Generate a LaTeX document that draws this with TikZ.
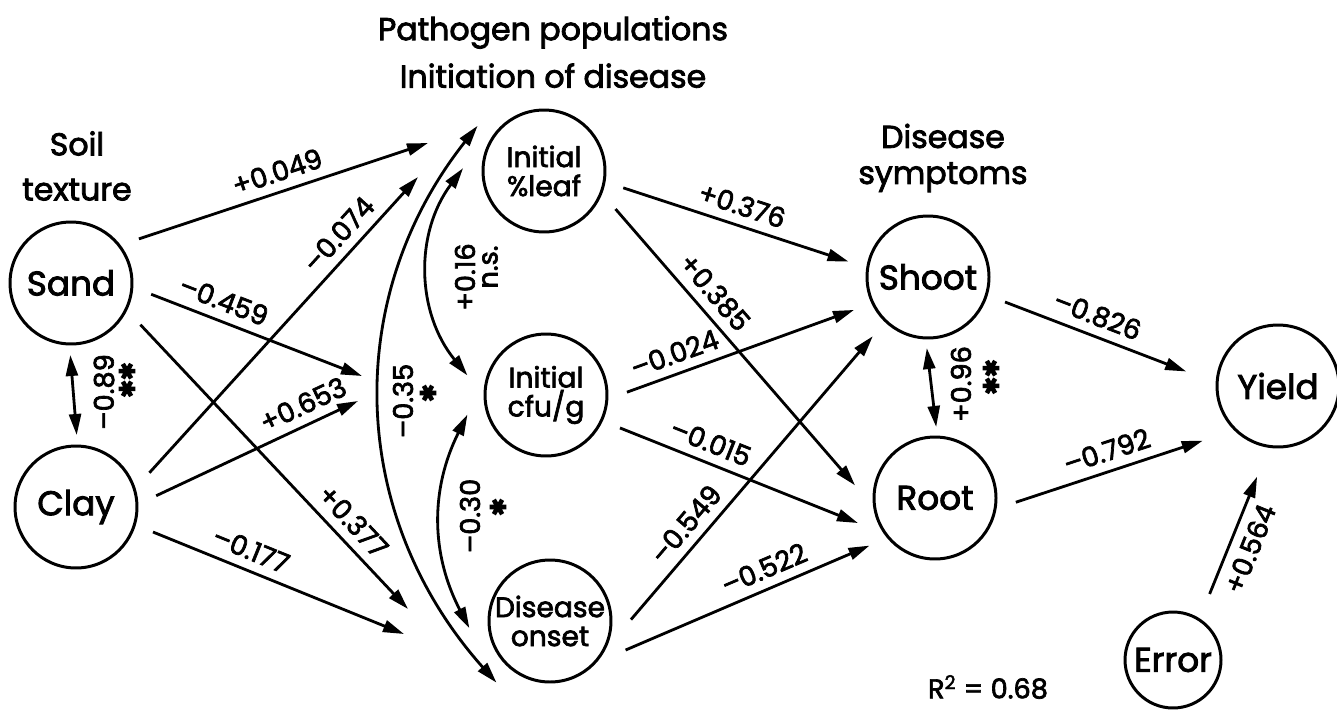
\documentclass[tikz,border=0pt]{standalone}
\usepackage{fontspec}
\setmainfont{Poppins}[FakeBold=2.5]
\newfontfamily\symfont{DejaVu Sans}[FakeBold=6]
\usetikzlibrary{arrows.meta}

\begin{document}
\begin{tikzpicture}[x=0.02cm, y=-0.02cm, line width=1.6pt,
  var/.style={draw, circle, line width=1.7pt, minimum size=2.44cm, inner sep=0pt, outer sep=0.4cm, align=center, font=\fontsize{19.5}{22}\selectfont},
  var2/.style={var, font=\fontsize{16}{16.5}\selectfont},
  coef/.style={inner sep=1pt, font=\fontsize{15.5}{17}\selectfont},
  star/.style={inner sep=0pt, rotate=90, font=\symfont\fontsize{12}{13}\selectfont},
  eff/.style={-{Triangle[length=0.42cm, width=0.24cm]}},
  corr/.style={{Triangle[length=0.42cm, width=0.24cm]}-{Triangle[length=0.42cm, width=0.24cm]}}]
  \useasboundingbox (0,0) rectangle (1337,710);

  % group headings
  \node[align=center, font=\fontsize{18}{25.6}\selectfont] (soil) at (77,166) {Soil\\texture};
  \node[align=center, font=\fontsize{18}{27}\selectfont] (patho) at (553,52) {Pathogen populations\\Initiation of disease};
  \node[align=center, font=\fontsize{18}{20.5}\selectfont] (sympt) at (943,158) {Disease\\symptoms};

  % variables
  \node[var] (sand) at (71,283) {Sand};
  \node[var] (clay) at (76,507) {Clay};
  \node[var2] (leaf) at (544,171) {Initial\\\%leaf};
  \node[var2] (cfu) at (546,395) {Initial\\cfu/g};
  \node[var2] (onset) at (550,621) {Disease\\onset};
  \node[var] (shoot) at (928,277) {Shoot};
  \node[var] (root) at (935,498) {Root};
  \node[var, outer sep=0.64cm] (yield) at (1278,386) {Yield};
  \node[var, minimum size=1.92cm, outer sep=0.55cm] (error) at (1173,660) {Error};

  % ends of the soil arrows
  \coordinate (popA) at (428,143);
  \coordinate (popB) at (418,177);
  \coordinate (popC) at (362,376);
  \coordinate (popD) at (358,401);
  \coordinate (popE) at (408,609);
  \coordinate (popF) at (404,634);

  % soil texture
  \draw[eff] (sand.33) -- (popA) node[coef, sloped, above=4pt, pos=0.5] {+0.049};
  \draw[eff] (sand.352) -- (popC) node[coef, sloped, above=4pt, pos=0.31] {–0.459};
  \draw[eff] (sand.329) -- (popE) node[coef, sloped, above=4pt, pos=0.74] {+0.377};
  \draw[eff] (clay.25) -- (popB) node[coef, sloped, above=4pt, pos=0.76] {–0.074};
  \draw[eff] (clay.8) -- (popD) node[coef, sloped, above=4pt, pos=0.77] {+0.653};
  \draw[eff] (clay.342) -- (popF) node[coef, sloped, above=4pt, pos=0.36] {–0.177};
  \draw[corr, shorten <=-0.18cm, shorten >=-0.18cm] (sand.south) -- (clay.north);

  % pathogen -> symptoms
  \draw[eff] (leaf.348) -- (shoot.169) node[coef, sloped, above=4pt, pos=0.5] {+0.376};
  \draw[eff] (leaf.332) -- (root.171) node[coef, sloped, above=4pt, pos=0.35] {+0.385};
  \draw[eff] (cfu.2) -- (shoot.204) node[coef, sloped, above=4pt, pos=0.24] {–0.024};
  \draw[eff] (cfu.336) -- (root.198) node[coef, sloped, above=4pt, pos=0.35] {–0.015};
  \draw[eff] (onset.1) -- (shoot.227) node[coef, sloped, above=4pt, pos=0.29] {–0.549};
  \draw[eff] (onset.339) -- (root.216) node[coef, sloped, above=4pt, pos=0.6] {–0.522};

  % correlations
  \draw[corr] (leaf.178) to[bend right=38] (cfu.166);
  \draw[corr] (cfu.194) to[bend right=27] (onset.185);
  \draw[corr, shorten <=-0.12cm, shorten >=-0.2cm] (leaf.150) to[bend right=40] (onset.222);
  \draw[corr, shorten <=-0.2cm, shorten >=-0.2cm] (shoot.south) -- (root.north);

  % yield
  \draw[eff] (shoot.342) -- (yield.171) node[coef, sloped, above=4pt, pos=0.47] {–0.826};
  \draw[eff] (root.357) -- (yield.216) node[coef, sloped, above=4pt, pos=0.52] {–0.792};
  \draw[eff] (error.61) -- (yield.257) node[coef, sloped, below=4pt, pos=0.45] {+0.564};

  % correlation values
  \node[coef, rotate=90] (r89) at (104,392) {–0.89};
  \node[star] (s89) at (127,380) {✱✱};
  \node[coef, rotate=90] (r35) at (403,401) {–0.35};
  \node[star] (s35) at (428,393) {✱};
  \node[coef, rotate=90] (r16) at (465,277) {+0.16};
  \node[coef, rotate=90] (s16) at (490,267) {n.s.};
  \node[coef, rotate=90] (r30) at (470,516) {–0.30};
  \node[star] (s30) at (498,507) {✱};
  \node[coef, rotate=90] (r96) at (961,384) {+0.96};
  \node[star] (s96) at (991,377) {✱✱};

  \node[coef] (rsq) at (988,687) {R\textsuperscript{2} = 0.68};
\end{tikzpicture}
\end{document}
